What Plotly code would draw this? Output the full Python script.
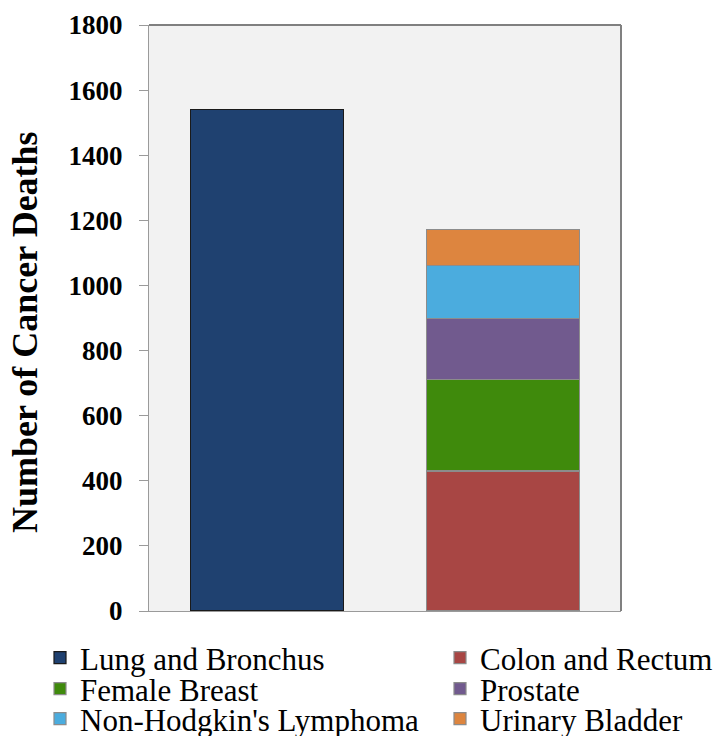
import plotly.graph_objects as go

# Cancer deaths by site
groups = ["Lung and Bronchus", "Next five sites"]
sites = ["Lung and Bronchus", "Colon and Rectum", "Female Breast",
         "Prostate", "Non-Hodgkin's Lymphoma", "Urinary Bladder"]
deaths = [1540, 430, 280, 189, 163, 110]
site_group = [0, 1, 1, 1, 1, 1]
colors = ["#1F4170", "#A84644", "#3F8A0C", "#715A8E", "#4BACDE", "#DD853F"]
outline = ["#1a1a1a", "#8c8c8c", "#8c8c8c", "#8c8c8c", "#8c8c8c", "#8c8c8c"]

y_ticks = [0, 200, 400, 600, 800, 1000, 1200, 1400, 1600, 1800]
y_title = "Number of Cancer Deaths"

FONT = "Liberation Serif"

W, H = 716, 736
ml, mr, mt, mb = 149, 95, 25, 125
pw, ph = W - ml - mr, H - mt - mb

# legend key laid out in two columns and three rows (pixel positions)
key_cols = [40, 440]
key_rows = [658, 689, 719]

fig = go.Figure()
legend_boxes = {}
for i, (name, val, g, col, oc) in enumerate(zip(sites, deaths, site_group, colors, outline)):
    lid = "legend" if i == 0 else f"legend{i + 1}"
    fig.add_trace(go.Bar(
        x=[groups[g]], y=[val], name=name,
        marker=dict(color=col, line=dict(color=oc, width=1.2)),
        width=0.65, legend=lid, showlegend=True,
    ))
    legend_boxes[lid] = dict(
        x=(key_cols[i % 2] - ml) / pw, y=(H - mb - key_rows[i // 2]) / ph,
        xanchor="left", yanchor="middle", orientation="v",
        font=dict(family=FONT, size=31, color="#000000"),
        bgcolor="rgba(0,0,0,0)", borderwidth=0,
        itemclick=False, itemdoubleclick=False,
    )

fig.update_layout(
    width=W, height=H,
    margin=dict(l=ml, r=mr, t=mt, b=mb, autoexpand=False),
    showlegend=True,
    barmode="stack",
    paper_bgcolor="#FFFFFF",
    plot_bgcolor="#F2F2F2",
    font=dict(family=FONT, color="#000000"),
    xaxis=dict(
        categoryorder="array", categoryarray=groups,
        range=[-0.5, 1.5], showticklabels=False, ticks="",
        showline=True, linecolor="#9a9a9a", linewidth=1,
        showgrid=False, zeroline=False, fixedrange=True,
    ),
    yaxis=dict(
        range=[0, 1800], tickvals=y_ticks,
        ticks="outside", ticklen=9, tickcolor="#9a9a9a", tickwidth=1,
        tickfont=dict(family=FONT, size=27, weight="bold", color="#000000"),
        ticklabelstandoff=11,
        showline=True, linecolor="#9a9a9a", linewidth=1,
        showgrid=False, zeroline=False, fixedrange=True,
    ),
    annotations=[
        dict(text=y_title, textangle=-90, showarrow=False,
             xref="paper", yref="paper",
             x=(25 - ml) / pw, y=(H - mb - 332) / ph,
             xanchor="center", yanchor="middle",
             font=dict(family=FONT, size=36, weight="bold", color="#000000")),
    ],
    shapes=[
        dict(type="line", xref="paper", yref="paper", x0=0, x1=1, y0=1, y1=1,
             line=dict(color="#808080", width=2)),
        dict(type="line", xref="paper", yref="paper", x0=1, x1=1, y0=0, y1=1,
             line=dict(color="#808080", width=2)),
    ],
    **legend_boxes,
)

fig.write_html("out.html")
